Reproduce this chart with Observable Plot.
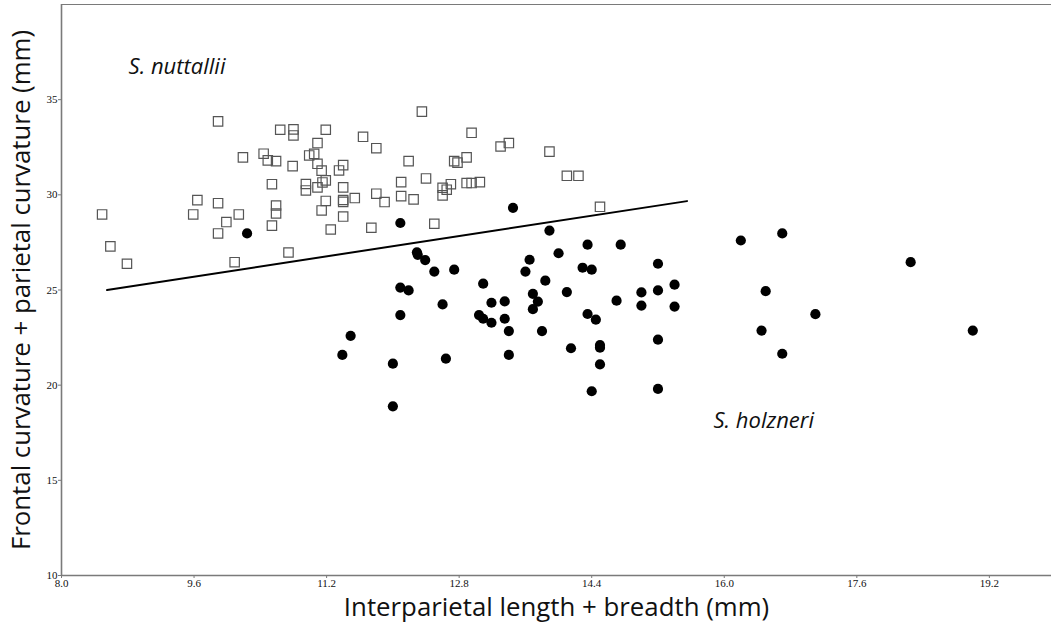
<!DOCTYPE html>
<html>
<head>
<meta charset="utf-8">
<script src="https://cdn.jsdelivr.net/npm/d3@7"></script>
<script src="https://cdn.jsdelivr.net/npm/@observablehq/plot@0.6"></script>
<style>
  html, body { margin: 0; padding: 0; background: #fff; }
  #chart { width: 1053px; height: 625px; }
</style>
</head>
<body>
<div id="chart"></div>
<script>
// S. nuttallii specimens (open squares)
const nuttalliiX = [8.49, 8.59, 8.79, 9.59, 9.64, 9.89, 9.89, 9.89, 9.99, 10.09,
  10.14, 10.19, 10.44, 10.49, 10.54, 10.54, 10.59, 10.59, 10.59, 10.64,
  10.74, 10.80, 10.80, 10.79, 10.95, 10.95, 10.99, 11.05, 11.09, 11.09,
  11.09, 11.14, 11.14, 11.15, 11.19, 11.19, 11.19, 11.25, 11.35, 11.40,
  11.40, 11.40, 11.40, 11.40, 11.54, 11.64, 11.74, 11.80, 11.80, 11.90,
  12.10, 12.10, 12.19, 12.25, 12.35, 12.40, 12.50, 12.60, 12.65, 12.70,
  12.60, 12.74, 12.78, 12.89, 12.89, 12.95, 13.05, 12.95, 13.30, 13.40,
  13.89, 14.10, 14.24, 14.50];
const nuttalliiY = [28.97, 27.29, 26.38, 28.97, 29.72, 33.86, 29.56, 27.97, 28.57, 26.46,
  28.97, 31.97, 32.16, 31.81, 30.56, 28.38, 31.77, 29.44, 29.02, 33.42,
  26.97, 33.44, 33.12, 31.51, 30.57, 30.23, 32.07, 32.15, 32.72, 31.63,
  30.39, 31.27, 29.18, 30.65, 33.42, 30.76, 29.68, 28.18, 31.28, 31.56,
  30.39, 29.73, 29.63, 28.86, 29.83, 33.05, 28.27, 32.45, 30.06, 29.62,
  30.67, 29.93, 31.77, 29.76, 34.37, 30.86, 28.48, 30.37, 30.27, 30.56,
  29.97, 31.77, 31.69, 31.97, 30.62, 30.62, 30.67, 33.26, 32.54, 32.72,
  32.27, 31.00, 31.00, 29.37];

// S. holzneri specimens (filled circles)
const holzneriX = [10.24, 11.39, 11.49, 12.00, 12.00, 12.09, 12.09, 12.19, 12.09, 12.29,
  12.30, 12.39, 12.50, 12.60, 12.64, 12.74, 13.04, 13.09, 13.09, 13.19,
  13.19, 13.35, 13.35, 13.40, 13.40, 13.45, 13.60, 13.65, 13.69, 13.75,
  13.69, 13.80, 13.84, 13.89, 14.00, 14.10, 14.15, 14.29, 14.35, 14.35,
  14.40, 14.40, 14.45, 14.50, 14.50, 14.50, 14.70, 14.75, 15.00, 15.00,
  15.20, 15.20, 15.20, 15.20, 15.40, 15.40, 16.20, 16.45, 16.50, 16.70,
  16.70, 17.10, 18.25, 19.00];
const holzneriY = [27.97, 21.59, 22.59, 21.13, 18.89, 28.52, 25.13, 24.98, 23.68, 26.98,
  26.85, 26.57, 25.97, 24.24, 21.39, 26.07, 23.68, 25.33, 23.49, 24.33,
  23.28, 24.40, 23.49, 22.84, 21.59, 29.32, 25.97, 26.59, 24.80, 24.39,
  23.99, 22.84, 25.49, 28.12, 26.93, 24.89, 21.94, 26.17, 27.38, 23.74,
  26.07, 19.68, 23.44, 22.11, 21.97, 21.09, 24.44, 27.38, 24.87, 24.18,
  26.38, 24.98, 22.39, 19.80, 25.28, 24.13, 27.60, 22.87, 24.94, 27.97,
  21.65, 23.73, 26.46, 22.87];

// Discriminant line separating the two species
const lineX = [8.55, 15.55];
const lineY = [25.0, 29.67];

// Axis ticks
const xTicks = [8.0, 9.6, 11.2, 12.8, 14.4, 16.0, 17.6, 19.2];
const yTicks = [10, 15, 20, 25, 30, 35];

// Species annotations
const speciesNames = ["S. nuttallii", "S. holzneri"];
const speciesX = [8.81, 15.87];
const speciesY = [36.7, 18.1];

const xTitle = "Interparietal length + breadth (mm)";
const yTitle = "Frontal curvature + parietal curvature (mm)";

const nuttallii = nuttalliiX.map((x, i) => ({x, y: nuttalliiY[i]}));
const holzneri = holzneriX.map((x, i) => ({x, y: holzneriY[i]}));
const sepLine = lineX.map((x, i) => ({x, y: lineY[i]}));
const species = speciesNames.map((name, i) => ({name, x: speciesX[i], y: speciesY[i]}));

const axisColor = "#7a7a7a";
const sans = "'Open Sans', 'Noto Sans', sans-serif";
const serif = "'Liberation Serif', 'DejaVu Serif', serif";

const chart = Plot.plot({
  width: 1053,
  height: 625,
  marginLeft: 61,
  marginRight: 2,
  marginTop: 4,
  marginBottom: 50,
  style: {background: "#fff", color: "#111"},
  x: {domain: [8, 19.95]},
  y: {domain: [10, 40]},
  marks: [
    // frame: left, bottom and top edges
    Plot.ruleX([8], {stroke: axisColor, strokeWidth: 1.6}),
    Plot.ruleY([10], {stroke: axisColor, strokeWidth: 1.6}),
    Plot.ruleY([40], {stroke: axisColor, strokeWidth: 1.2}),
    Plot.axisX({
      ticks: xTicks,
      tickFormat: d => d.toFixed(1),
      tickSize: 3,
      tickPadding: 1,
      stroke: axisColor,
      fontSize: 11,
      fontFamily: serif,
      label: null
    }),
    Plot.axisY({
      ticks: yTicks,
      tickSize: 3,
      tickPadding: 1,
      stroke: axisColor,
      fontSize: 11,
      fontFamily: serif,
      label: null
    }),
    Plot.line(sepLine, {x: "x", y: "y", stroke: "#000", strokeWidth: 2}),
    Plot.dot(nuttallii, {x: "x", y: "y", symbol: "square", r: 5.3, stroke: "#555", strokeWidth: 1.2, fill: "none"}),
    Plot.dot(holzneri, {x: "x", y: "y", r: 5.1, fill: "#000", stroke: "none"}),
    Plot.text(species, {
      x: "x", y: "y", text: "name",
      textAnchor: "start", fontSize: 22, fontStyle: "italic",
      fontFamily: sans, fill: "#111"
    }),
    Plot.text([xTitle], {
      frameAnchor: "bottom", textAnchor: "middle", dy: 40, fontSize: 25.8, fontFamily: sans, fill: "#111"
    }),
    Plot.text([yTitle], {
      frameAnchor: "left", textAnchor: "middle", dx: -40, rotate: -90, fontSize: 25.8, fontFamily: sans, fill: "#111"
    })
  ]
});

document.getElementById("chart").appendChild(chart);
</script>
</body>
</html>
